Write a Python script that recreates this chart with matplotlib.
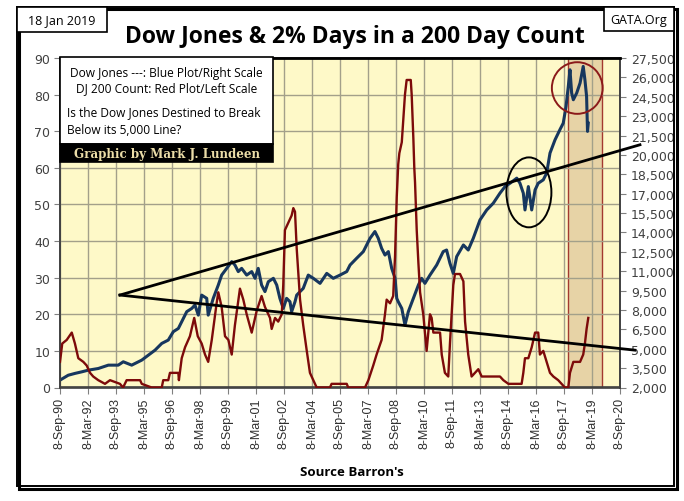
import matplotlib
matplotlib.use("Agg")
import matplotlib.pyplot as plt
from matplotlib.patches import Rectangle, Ellipse
import numpy as np

# ---------------- data ----------------
# DJ 200-day count of 2% days (left scale); x in decimal years
count_year = [1990.69, 1990.81, 1991.05, 1991.32, 1991.49, 1991.67, 1991.94, 1992.12, 1992.30, 1992.47,
              1992.74, 1993.10, 1993.37, 1993.90, 1994.07, 1994.26, 1994.98, 1995.07, 1995.60, 1996.14,
              1996.22, 1996.49, 1996.58, 1997.03, 1997.06, 1997.21, 1997.39, 1997.65, 1997.88, 1998.07,
              1998.28, 1998.46, 1998.63, 1998.82, 1999.08, 1999.17, 1999.35, 1999.53, 1999.71, 1999.89,
              2000.06, 2000.33, 2000.51, 2000.69, 2000.96, 2001.23, 2001.49, 2001.67, 2001.94, 2002.03,
              2002.21, 2002.38, 2002.57, 2002.65, 2002.74, 2002.92, 2003.10, 2003.19, 2003.28, 2003.37,
              2003.55, 2003.72, 2003.91, 2004.08, 2004.26, 2004.44, 2005.15, 2005.24, 2006.05, 2006.13,
              2007.03, 2007.21, 2007.47, 2007.65, 2007.92, 2008.10, 2008.19, 2008.37, 2008.54, 2008.64,
              2008.73, 2008.81, 2008.87, 2009.00, 2009.08, 2009.17, 2009.26, 2009.48, 2009.53, 2009.62,
              2009.67, 2009.71, 2009.80, 2009.89, 2009.98, 2010.15, 2010.24, 2010.33, 2010.42, 2010.51,
              2010.60, 2010.69, 2011.05, 2011.14, 2011.31, 2011.49, 2011.58, 2011.76, 2011.85, 2012.12,
              2012.30, 2012.39, 2012.56, 2012.74, 2012.92, 2013.10, 2013.28, 2013.37, 2013.73, 2013.90,
              2014.08, 2014.26, 2014.44, 2014.71, 2014.80, 2015.42, 2015.51, 2015.60, 2015.78, 2015.96,
              2016.14, 2016.23, 2016.31, 2016.40, 2016.58, 2016.76, 2016.94, 2017.12, 2017.38, 2017.56,
              2017.74, 2017.92, 2018.01, 2018.19, 2018.55, 2018.72, 2018.81, 2018.90, 2018.99]
count_val = [7, 12, 13, 15, 12, 8, 7, 6, 4, 3,
             2, 1, 2, 1, 0, 2, 2, 1, 0, 0,
             2, 2, 4, 4, 2, 8, 11, 14, 19, 14,
             12, 9, 7, 13, 23, 26, 22, 14, 13, 9,
             17, 27, 24, 20, 15, 21, 25, 22, 19, 16,
             19, 18, 20, 28, 43, 45, 47, 49, 48, 38,
             24, 17, 10, 4, 2, 0, 0, 1, 1, 0,
             0, 2, 6, 9, 13, 20, 24, 23, 25, 36,
             52, 61, 64, 67, 73, 80, 84, 84, 80, 68,
             60, 56, 43, 34, 26, 20, 15, 10, 15, 20,
             19, 15, 15, 9, 4, 3, 12, 28, 31, 31,
             29, 18, 9, 3, 4, 5, 3, 3, 3, 3,
             3, 3, 2, 1, 1, 1, 4, 8, 8, 11,
             15, 15, 15, 9, 10, 7, 4, 3, 2, 1,
             0, 0, 4, 7, 7, 9, 12, 16, 19]

# Dow Jones Industrial Average (right scale)
dow_year = [1990.69, 1991.13, 1991.49, 1991.85, 1992.20, 1992.74, 1993.28, 1993.81, 1994.08, 1994.53,
            1995.07, 1995.42, 1995.78, 1996.14, 1996.49, 1996.76, 1997.03, 1997.21, 1997.48, 1997.75,
            1997.92, 1998.10, 1998.28, 1998.55, 1998.63, 1998.90, 1999.17, 1999.35, 1999.62, 1999.89,
            2000.06, 2000.24, 2000.42, 2000.69, 2000.96, 2001.14, 2001.31, 2001.49, 2001.67, 2001.85,
            2002.12, 2002.30, 2002.47, 2002.65, 2002.83, 2003.01, 2003.10, 2003.28, 2003.37, 2003.55,
            2003.72, 2003.99, 2004.26, 2004.62, 2004.98, 2005.33, 2005.69, 2006.05, 2006.23, 2006.58,
            2006.94, 2007.30, 2007.56, 2007.74, 2007.92, 2008.10, 2008.28, 2008.46, 2008.64, 2008.73,
            2008.81, 2009.00, 2009.17, 2009.35, 2009.62, 2009.89, 2010.06, 2010.24, 2010.51, 2010.87,
            2011.22, 2011.40, 2011.58, 2011.76, 2011.94, 2012.30, 2012.56, 2012.83, 2013.19, 2013.55,
            2013.90, 2014.26, 2014.53, 2014.80, 2015.16, 2015.33, 2015.51, 2015.60, 2015.78, 2015.96,
            2016.14, 2016.31, 2016.58, 2016.76, 2016.94, 2017.21, 2017.47, 2017.65, 2017.80, 2017.92,
            2018.01, 2018.10, 2018.19, 2018.37, 2018.55, 2018.72, 2018.81, 2018.90, 2018.95, 2018.99]
dow_val = [2570, 2950, 3090, 3210, 3340, 3470, 3730, 3730, 3990, 3730,
           4120, 4500, 4890, 5410, 5670, 6320, 6570, 7090, 7870, 8120,
           8380, 7600, 9150, 8900, 7600, 8900, 9930, 10700, 11220, 11740,
           11480, 10970, 11220, 10700, 10970, 10450, 11220, 9930, 9420, 10190,
           10450, 9930, 8900, 8120, 8900, 8640, 7870, 8640, 9150, 9420,
           9670, 10700, 10450, 10060, 10830, 10450, 10700, 10970, 11480, 12000,
           12520, 13550, 14070, 13550, 12770, 12250, 12520, 11220, 10450, 8900,
           8640, 8120, 6830, 7870, 8900, 9930, 10450, 10060, 10700, 11480,
           12520, 12640, 11610, 10830, 12130, 13030, 12640, 13550, 14970, 15740,
           16260, 17040, 17550, 17810, 18200, 17810, 17040, 15740, 17550, 15740,
           17290, 17810, 18070, 18590, 20140, 21170, 21950, 22460, 23760, 25300,
           26590, 24790, 24270, 24790, 25560, 26850, 25820, 24530, 21820, 22460]

x_tick_labels = ["8-Sep-90", "8-Mar-92", "8-Sep-93", "8-Mar-95", "8-Sep-96", "8-Mar-98", "8-Sep-99",
                 "8-Mar-01", "8-Sep-02", "8-Mar-04", "8-Sep-05", "8-Mar-07", "8-Sep-08", "8-Mar-10",
                 "8-Sep-11", "8-Mar-13", "8-Sep-14", "8-Mar-16", "8-Sep-17", "8-Mar-19", "8-Sep-20"]
x_tick_start = 1990.69      # 8-Sep-90
x_tick_step = 1.5           # 18 months
left_ticks = list(range(0, 91, 10))
right_ticks = list(range(2000, 27501, 1500))

# annotation lines (left-scale units)
trend_upper_x = [1993.90, 2021.76]
trend_upper_y = [25.25, 66.3]
trend_lower_x = [1993.90, 2021.49]
trend_lower_y = [25.25, 10.2]
shade_span = [2017.89, 2019.74]
red_circle = (2018.40, 81.8, 2.72, 14.1)
black_circle = (2015.81, 53.3, 2.41, 19.1)

# ---------------- figure ----------------
W, H = 684, 502
fig = plt.figure(figsize=(W / 100, H / 100), dpi=100)
fig.patch.set_facecolor("white")

def fx(px):
    return px / W

def fy(py):
    return 1 - py / H

L, R, T, B = 60, 620, 59, 388.5
rect = [fx(L), fy(B), (R - L) / W, (B - T) / H]

xmin = x_tick_start
xmax = x_tick_start + x_tick_step * (len(x_tick_labels) - 1)
xticks = [x_tick_start + x_tick_step * i for i in range(len(x_tick_labels))]

yellow = "#FEF9C8"
grid_c = "#A3A08A"
red_c = "#7D0A0A"
blue_c = "#17375E"

# background axes: fill, grid, shade
axbg = fig.add_axes(rect)
axbg.set_facecolor(yellow)
axbg.set_xlim(xmin, xmax)
axbg.set_ylim(0, 90)
axbg.set_xticks(xticks)
axbg.set_yticks(left_ticks)
axbg.grid(True, color=grid_c, linewidth=1.0)
axbg.tick_params(length=0, labelleft=False, labelbottom=False)
axbg.axvspan(shade_span[0], shade_span[1], facecolor="#E7D3A6", edgecolor="#A33A30",
             linewidth=1.0, zorder=1.5)
for s in axbg.spines.values():
    s.set_visible(False)

# main axes (red, left)
ax = fig.add_axes(rect)
ax.patch.set_visible(False)
ax.set_xlim(xmin, xmax)
ax.set_ylim(0, 90)
ax.set_xticks(xticks)
ax.set_xticklabels(x_tick_labels, rotation=90, fontsize=9, family="Liberation Sans", color="#303030")
ax.set_yticks(left_ticks)
ax.set_yticklabels([str(v) for v in left_ticks], fontsize=9, family="DejaVu Sans", color="#404040")
ax.tick_params(axis="y", direction="out", length=4, color="#808080", pad=3)
ax.tick_params(axis="x", direction="out", length=4, color="#808080", pad=3)

ax2 = ax.twinx()
ax2.set_ylim(2000, 27500)
ax2.set_yticks(right_ticks)
ax2.set_yticklabels([f"{v:,}" for v in right_ticks], fontsize=9, family="DejaVu Sans", color="#404040")
ax2.tick_params(axis="y", direction="out", length=4, color="#808080", pad=4)
ax2.plot(dow_year, dow_val, color=blue_c, linewidth=2.2, zorder=3)

ax.set_zorder(ax2.get_zorder() + 1)
ax.plot(count_year, count_val, color=red_c, linewidth=1.7, zorder=3)

ax.plot(trend_upper_x, trend_upper_y, color="black", linewidth=2.0, clip_on=False, zorder=5)
ax.plot(trend_lower_x, trend_lower_y, color="black", linewidth=2.0, clip_on=False, zorder=5)
ax.add_patch(Ellipse(red_circle[:2], red_circle[2], red_circle[3], fill=False,
                     edgecolor="#8B1A1A", linewidth=1.4, zorder=6))
ax.add_patch(Ellipse(black_circle[:2], black_circle[2], black_circle[3], fill=False,
                     edgecolor="black", linewidth=1.4, zorder=6))

for a in (ax, ax2):
    for s in a.spines.values():
        s.set_color("#404040")
        s.set_linewidth(1.2)
ax.spines["top"].set_color("black")
ax.spines["top"].set_linewidth(2)

# ---------------- figure decorations ----------------
def box(x0, y0, x1, y1, fc="white", ec="black", lw=1.2, z=10):
    r = Rectangle((fx(x0), fy(y1)), (x1 - x0) / W, (y1 - y0) / H, transform=fig.transFigure,
                  facecolor=fc, edgecolor=ec, linewidth=lw, zorder=z)
    fig.add_artist(r)

# outer frame with shadow
box(19, 10, 677, 490, fc="none", ec="black", lw=2.2, z=1)
box(17, 8, 674, 487, fc="none", ec="black", lw=1.4, z=1)

box(17, 8, 107, 33, lw=1.2)
fig.text(fx(62), fy(21), "18 Jan 2019", ha="center", va="center", fontsize=9,
         family="Open Sans", color="black", zorder=11)
box(604, 8, 674, 32, lw=1.2)
fig.text(fx(639), fy(20.5), "GATA.Org", ha="center", va="center", fontsize=9,
         family="Open Sans", color="black", zorder=11)

fig.text(fx(355), fy(37), "Dow Jones & 2% Days in a 200 Day Count", ha="center", va="center",
         fontsize=16.5, fontweight="bold", family="Open Sans", color="black")

# legend/info box inside plot
box(60, 58, 273, 145, lw=1.2, z=10)
box(60, 145, 273, 163, fc="black", lw=1.2, z=10)
fig.text(fx(166.5), fy(73), "Dow Jones ---: Blue Plot/Right Scale", ha="center", va="center",
         fontsize=8.6, family="Open Sans", color="black", zorder=11)
fig.text(fx(166.5), fy(89), "DJ 200 Count: Red Plot/Left Scale", ha="center", va="center",
         fontsize=8.6, family="Open Sans", color="black", zorder=11)
fig.text(fx(67), fy(113), "Is the Dow Jones Destined to Break", ha="left", va="center",
         fontsize=8.6, family="Open Sans", color="black", zorder=11)
fig.text(fx(67), fy(130), "Below its 5,000 Line?", ha="left", va="center",
         fontsize=8.6, family="Open Sans", color="black", zorder=11)
fig.text(fx(166.5), fy(154.5), "Graphic by Mark J. Lundeen", ha="center", va="center",
         fontsize=8.6, fontweight="bold", family="DejaVu Serif", color="#EBDDA8", zorder=11)

fig.text(fx(352), fy(472), "Source Barron's", ha="center", va="center", fontsize=9.5,
         fontweight="bold", family="Open Sans", color="black")

fig.savefig("out.png", dpi=100)
